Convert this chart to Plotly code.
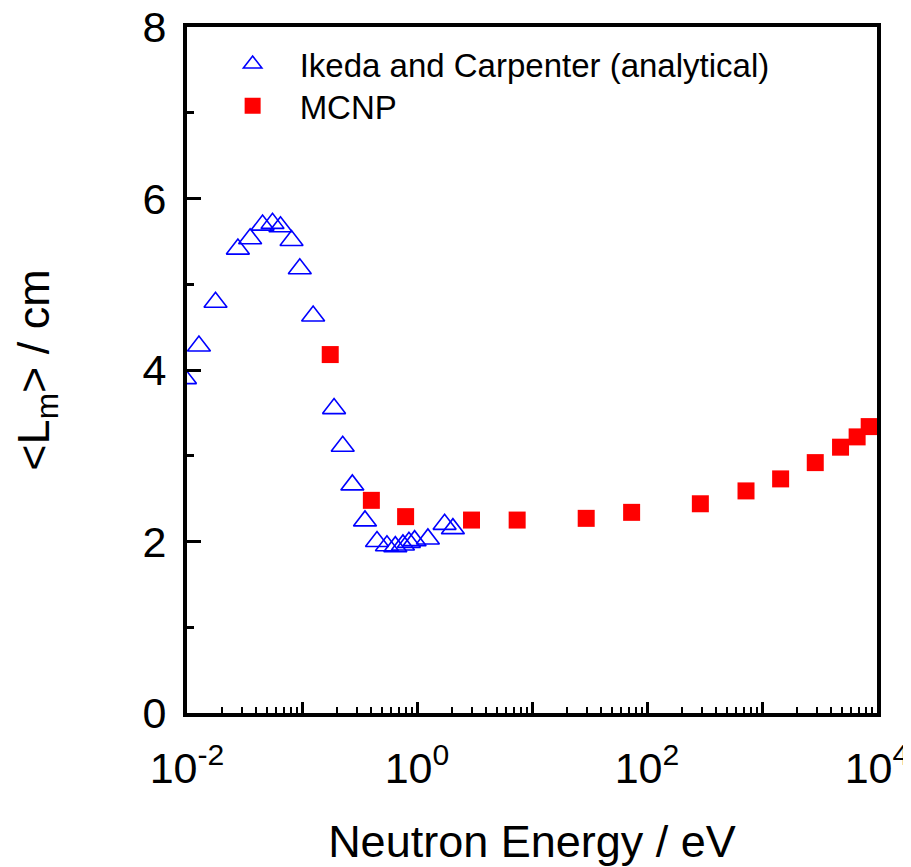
import plotly.graph_objects as go

# Ikeda and Carpenter (analytical)
ikeda_energy = [0.0096, 0.0127, 0.0177, 0.0277, 0.0354, 0.0454, 0.0554, 0.0650, 0.0811, 0.0957,
                0.125, 0.190, 0.226, 0.274, 0.353, 0.449, 0.548, 0.648, 0.755, 0.851,
                0.953, 1.244, 1.738, 2.052]
ikeda_lm = [3.90, 4.28, 4.79, 5.41, 5.53, 5.69, 5.71, 5.67, 5.51, 5.18,
            4.63, 3.55, 3.11, 2.66, 2.24, 2.00, 1.95, 1.94, 1.96, 1.99,
            2.01, 2.03, 2.20, 2.15]

# MCNP
mcnp_energy = [0.176, 0.401, 0.796, 2.98, 7.43, 29.6, 73.5, 291, 726, 1452, 2905, 4819, 6718, 8550]
mcnp_lm = [4.18, 2.48, 2.29, 2.25, 2.25, 2.27, 2.34, 2.44, 2.59, 2.73, 2.92, 3.10, 3.22, 3.34]

x_major_vals = [0.01, 0.1, 1, 10, 100, 1000, 10000]
x_major_text = ["10<sup>-2</sup>", "", "10<sup>0</sup>", "", "10<sup>2</sup>", "", "10<sup>4</sup>"]
x_minor_vals = [m * d for d in [0.01, 0.1, 1, 10, 100, 1000] for m in range(2, 10)]

y_major_vals = [0, 2, 4, 6, 8]

FONT = "Arial, Liberation Sans, sans-serif"

fig = go.Figure()
fig.add_trace(go.Scatter(
    x=ikeda_energy, y=ikeda_lm, mode="markers",
    name="Ikeda and Carpenter (analytical)", legend="legend",
    marker=dict(symbol="triangle-up-open", size=20, color="#0000ff", line=dict(width=1.6, color="#0000ff")),
))
fig.add_trace(go.Scatter(
    x=mcnp_energy, y=mcnp_lm, mode="markers",
    name="MCNP", legend="legend2",
    marker=dict(symbol="square", size=17, color="#ff0000", line=dict(width=0)),
))

legend_common = dict(
    xanchor="left", yanchor="middle",
    font=dict(size=33, family=FONT, color="black"),
    bgcolor="rgba(0,0,0,0)", itemwidth=84,
)

fig.update_layout(
    width=903, height=859,
    margin=dict(l=179, r=34, t=19, b=154),
    plot_bgcolor="white", paper_bgcolor="white",
    font=dict(family=FONT, color="black"),
    showlegend=True,
    legend=dict(x=0.027, y=0.946, **legend_common),
    legend2=dict(x=0.027, y=0.885, **legend_common),
)

fig.update_xaxes(
    type="log", range=[-2, 4], automargin=False,
    showgrid=False, zeroline=False,
    showline=True, linewidth=4, linecolor="black", mirror=True,
    tickmode="array", tickvals=x_major_vals, ticktext=x_major_text,
    ticks="inside", ticklen=11, tickwidth=3, tickcolor="black",
    tickfont=dict(size=43, family=FONT), ticklabelstandoff=14, ticklabeloverflow="allow",
    minor=dict(tickvals=x_minor_vals, ticks="inside", ticklen=6, tickwidth=2, tickcolor="black"),
    title=dict(text="Neutron Energy / eV", font=dict(size=45, family=FONT), standoff=39),
)
fig.update_yaxes(
    range=[0, 8], automargin=False,
    showgrid=False, zeroline=False,
    showline=True, linewidth=4, linecolor="black", mirror=True,
    tickmode="array", tickvals=y_major_vals,
    ticks="inside", ticklen=14, tickwidth=3, tickcolor="black",
    tickfont=dict(size=43, family=FONT), ticklabelstandoff=8, ticklabeloverflow="allow",
    minor=dict(dtick=1, ticks="inside", ticklen=7, tickwidth=3, tickcolor="black"),
    title=dict(text="&lt;L<sub>m</sub>&gt; / cm", font=dict(size=45, family=FONT), standoff=81),
)

fig.write_html("out.html")
